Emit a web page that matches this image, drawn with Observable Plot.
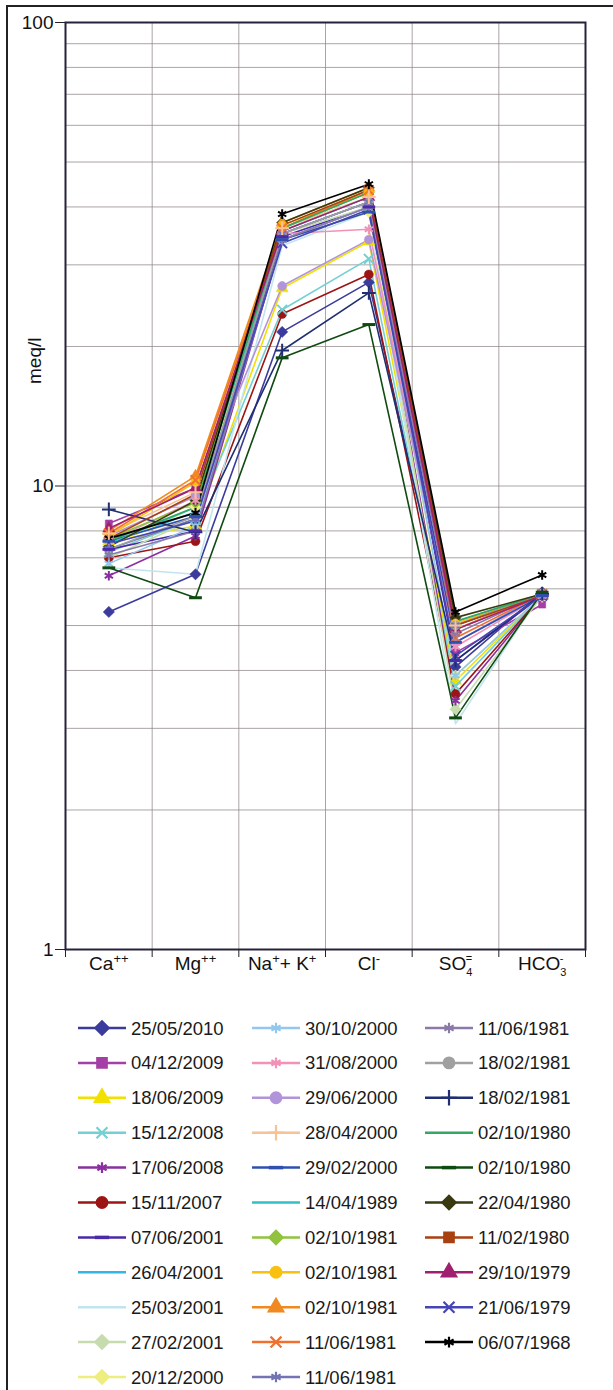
<!DOCTYPE html>
<html><head><meta charset="utf-8">
<script src="https://cdn.jsdelivr.net/npm/d3@7"></script>
<script src="https://cdn.jsdelivr.net/npm/@observablehq/plot@0.6"></script>
<style>
body{margin:0;background:#fff;font-family:"Liberation Sans",Arial,sans-serif;}
#wrap{position:relative;width:613px;height:1390px;overflow:hidden;background:#fff;}
#border{position:absolute;left:6px;top:5px;width:800px;height:1600px;border-left:2px solid #222;border-top:2px solid #222;}
#chart{position:absolute;left:0;top:0;}
#legend{position:absolute;left:0;top:1005px;}
</style></head><body>
<div id="wrap"><div id="border"></div><div id="chart"></div><svg id="legend" width="613" height="385"></svg></div>
<script>
// ---- data ----
const categories = ["Ca++", "Mg++", "Na+ + K+", "Cl-", "SO4=", "HCO3-"];
// label pieces: [text, role] role: "" normal, "sup" superscript, "sub" subscript, "stack" superscript stacked over previous subscript
const categoryLabelParts = [
  [["Ca", ""], ["++", "sup"]],
  [["Mg", ""], ["++", "sup"]],
  [["Na", ""], ["+", "sup"], ["+ K", ""], ["+", "sup"]],
  [["Cl", ""], ["-", "sup"]],
  [["SO", ""], ["4", "sub"], ["=", "stack"]],
  [["HCO", ""], ["3", "sub"], ["-", "stack"]]
];
const yTicks = [1, 10, 100];

const dates = [
  "25/05/2010","04/12/2009","18/06/2009","15/12/2008","17/06/2008","15/11/2007",
  "07/06/2001","26/04/2001","25/03/2001","27/02/2001","20/12/2000",
  "30/10/2000","31/08/2000","29/06/2000","28/04/2000","29/02/2000","14/04/1989",
  "02/10/1981","02/10/1981","02/10/1981","11/06/1981","11/06/1981",
  "11/06/1981","18/02/1981","18/02/1981","02/10/1980","02/10/1980","22/04/1980",
  "11/02/1980","29/10/1979","21/06/1979","06/07/1968"
];
const colors = [
  "#3b3b9c","#a33fa6","#f2e000","#74d0d2","#8a2fa2","#9c1414",
  "#4a2aa8","#35b5e5","#c2e4ee","#c6dcae","#eeee80",
  "#92c8ee","#f292b8","#b294da","#f8c294","#3050b0","#2fc0c8",
  "#92c23e","#f8c010","#f08a20","#f07030","#7474b4",
  "#8a7aa8","#a0a0a0","#1f2f72","#33a862","#0f4a10","#3a3a10",
  "#a84010","#a02070","#4545b5","#000000"
];
const markers = [
  "diamond","square","triangle","times","asterisk","circle",
  "dash",null,null,"diamond","diamond",
  "asterisk","asterisk","circle","plus","dash",null,
  "diamond","circle","triangle","times","asterisk",
  "asterisk","circle","plus",null,"dash","diamond",
  "square","triangle","times","asterisk"
];
// meq/l per ion, one value per sample (same order as dates)
const ca   = [5.35,8.3,7.6,7.2,6.4,7.0, 7.3,7.5,6.66,7.0,7.4, 6.8,7.6,7.8,7.9,7.6,7.5, 7.7,7.8,8.0,7.9,7.3, 7.1,7.3,8.9,7.6,6.66,7.4, 7.7,8.1,7.5,7.7];
const mg   = [6.45,9.9,8.2,8.5,7.8,7.6, 8.0,8.8,6.45,8.5,9.0, 8.2,9.3,9.5,9.7,8.6,9.0, 9.2,10.2,10.5,10.3,8.5, 8.0,8.6,7.95,9.0,5.74,9.3, 9.6,9.9,8.4,8.75];
const naK  = [21.5,35,26.7,24.0,34,23.5, 34.5,35,33,35,34, 34,35,27,36,34,35.5, 36,36.5,37,36,35, 34,35,19.6,36,18.9,37, 36.5,35.5,33.4,38.6];
const cl   = [27.5,41,33.7,30.9,40,28.6, 40,41,39,40,39, 40,35.8,34,42,39,42, 43,43,44,43.5,41, 40,41,26.1,43,22.3,44, 43.5,42,39.5,44.8];
const so4  = [4.07,4.37,3.8,3.7,3.44,3.56, 4.2,4.9,3.07,3.3,3.9, 3.9,4.5,4.6,5.0,4.6,5.1, 5.0,5.05,4.9,4.7,5.0, 4.8,5.0,4.2,5.1,3.16,5.2, 5.0,4.9,4.3,5.35];
const hco3 = [5.9,5.55,5.8,5.8,5.8,5.8, 5.8,5.85,5.9,5.8,5.8, 5.8,5.8,5.85,5.8,5.8,5.85, 5.85,5.85,5.85,5.85,5.85, 5.85,5.85,5.85,5.85,5.9,5.85, 5.8,5.8,5.8,6.43];

// ---- build table ----
const ions = [ca, mg, naK, cl, so4, hco3];
const rows = [];
dates.forEach((d, s) => {
  ions.forEach((arr, c) => {
    rows.push({series: s, date: d, cat: c + 0.5, value: arr[s], color: colors[s], marker: markers[s]});
  });
});

const dashSymbol = {draw(ctx, size) { const w = Math.sqrt(size) * 0.8; ctx.moveTo(-w, 0); ctx.lineTo(w, 0); }};
const diamondSymbol = {draw(ctx, size) { const r = Math.sqrt(size / 2); ctx.moveTo(0, -r); ctx.lineTo(r, 0); ctx.lineTo(0, r); ctx.lineTo(-r, 0); ctx.closePath(); }};
const symbolMap = {
  diamond: diamondSymbol, square: d3.symbolSquare, triangle: d3.symbolTriangle,
  circle: d3.symbolCircle, times: d3.symbolTimes, asterisk: d3.symbolAsterisk,
  plus: d3.symbolPlus, dash: dashSymbol
};
const filledKinds = ["diamond","square","triangle","circle"];
const strokedKinds = ["times","asterisk","plus","dash"];

const minor = [];
for (let k = 0; k < 2; k++) for (let m = 1; m < 10; m++) minor.push(m * Math.pow(10, k));
minor.push(100);

const markMarks = [];
filledKinds.forEach(k => {
  markMarks.push(Plot.dot(rows.filter(r => r.marker === k), {
    x: "cat", y: "value", fill: "color", stroke: "color", strokeWidth: 0.5, symbol: symbolMap[k], r: k === "square" ? 4 : 4.5
  }));
});
strokedKinds.forEach(k => {
  markMarks.push(Plot.dot(rows.filter(r => r.marker === k), {
    x: "cat", y: "value", stroke: "color", fill: "none", strokeWidth: k === "dash" ? 3 : 2, symbol: symbolMap[k], r: 4.5
  }));
});

const chart = Plot.plot({
  width: 613,
  height: 1000,
  marginLeft: 65,
  marginRight: 28,
  marginTop: 22,
  marginBottom: 51,
  style: {fontFamily: "'Liberation Sans', Arial, sans-serif", background: "transparent", fontSize: "18px"},
  x: {type: "linear", domain: [0, categories.length]},
  y: {type: "log", domain: [1, 100]},
  color: {type: "identity"},
  marks: [
    Plot.gridY(minor, {stroke: "#8f8686", strokeOpacity: 0.75, strokeWidth: 1}),
    Plot.gridX(d3.range(0, categories.length + 1), {stroke: "#8f8686", strokeOpacity: 0.75, strokeWidth: 1}),
    Plot.line(rows, {x: "cat", y: "value", z: "series", stroke: "color", strokeWidth: 1.6}),
    ...markMarks,
    Plot.frame({stroke: "#26223c", strokeWidth: 2}),
    Plot.axisY(yTicks, {tickSize: 10, tickPadding: 2, tickFormat: d => String(d), fontSize: 19, stroke: "#222", fill: "#111", label: null}),
    Plot.axisX(d3.range(0, categories.length + 1), {tickSize: 8, tickFormat: () => "", stroke: "#222", label: null}),
    Plot.axisX(d3.range(0, categories.length).map(i => i + 0.5), {tickSize: 0, tickPadding: 7, fontSize: 19, fill: "#111",
      tickFormat: v => categories[Math.floor(v)], label: null}),
    Plot.text(["meq/l"], {frameAnchor: "left", rotate: -90, dx: -31, dy: -102, fontSize: 19, fill: "#111"})
  ]
});
document.getElementById("chart").appendChild(chart);

// rich-text the category labels (superscripts / subscripts)
d3.select(chart).selectAll("text").each(function() {
  const idx = categories.indexOf(this.textContent);
  if (idx < 0) return;
  const t = d3.select(this);
  t.text(null);
  let shift = 0;
  categoryLabelParts[idx].forEach(([s, role]) => {
    const sp = t.append("tspan").text(s);
    let target = 0;
    if (role === "sup") { target = -7; sp.attr("font-size", 13); }
    else if (role === "sub") { target = 6; sp.attr("font-size", 11); }
    else if (role === "stack") { target = -8; sp.attr("font-size", 11).attr("dx", -6.5); }
    sp.attr("dy", target - shift);
    shift = target;
  });
});

// ---- legend ----
const leg = d3.select("#legend");
const colLine = [78, 252, 425];
const colText = [131, 305, 478];
dates.forEach((d, i) => {
  const col = Math.floor(i / 11), row = i % 11;
  const y = 23 + row * 34.9;
  const g = leg.append("g");
  g.append("line").attr("x1", colLine[col]).attr("x2", colLine[col] + 48).attr("y1", y).attr("y2", y)
    .attr("stroke", colors[i]).attr("stroke-width", 2.5);
  const m = markers[i];
  if (m) {
    const filled = filledKinds.includes(m);
    g.append("path").attr("transform", `translate(${colLine[col] + 24},${y})`)
      .attr("d", d3.symbol(symbolMap[m], filled ? 90 : 80)())
      .attr("fill", filled ? colors[i] : "none")
      .attr("stroke", colors[i]).attr("stroke-width", m === "dash" ? 3.5 : 2.2);
  }
  g.append("text").attr("x", colText[col]).attr("y", y + 6.5).attr("font-size", 18.5)
    .attr("font-family", "'Liberation Sans', Arial, sans-serif").attr("fill", "#1a1a1a").text(d);
});
</script>
</body></html>
